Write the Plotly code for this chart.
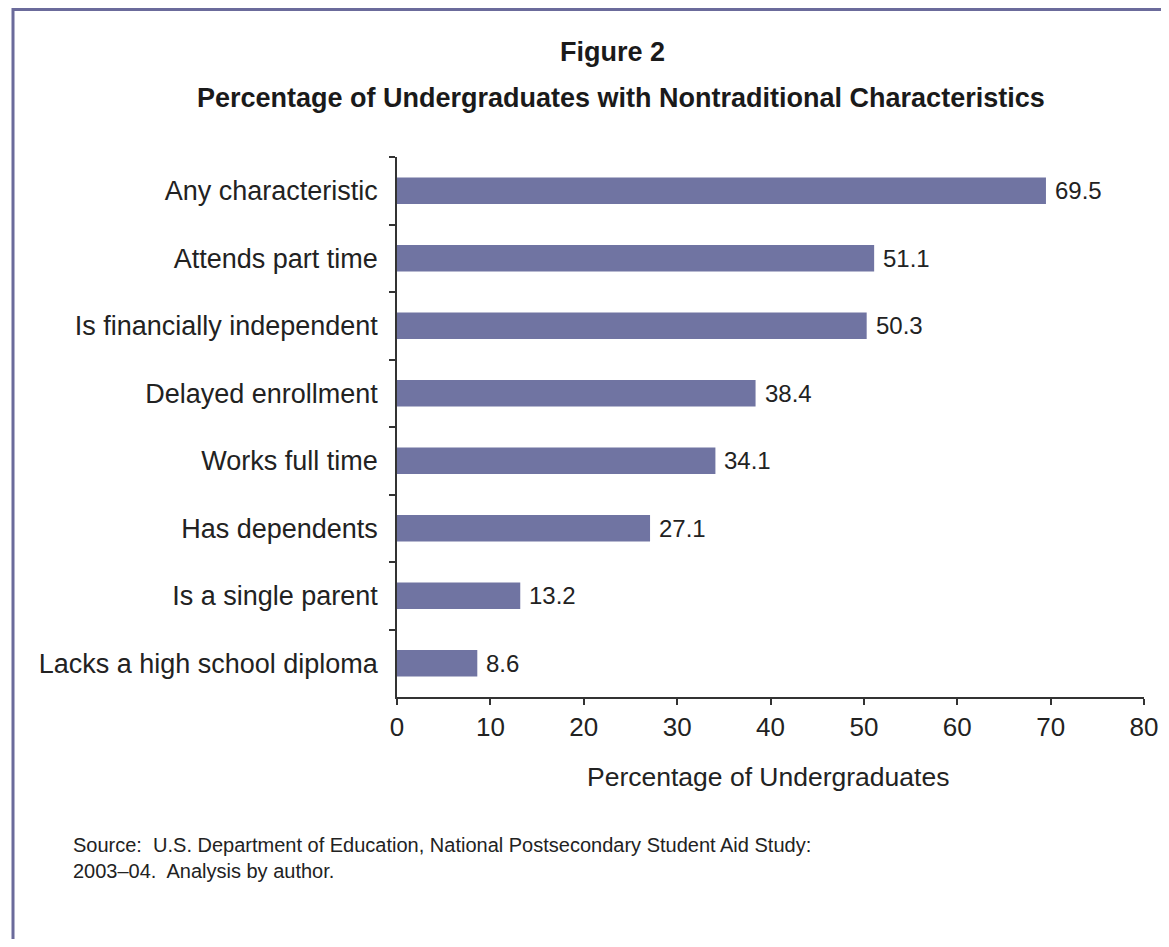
import plotly.graph_objects as go

categories = [
    "Any characteristic",
    "Attends part time",
    "Is financially independent",
    "Delayed enrollment",
    "Works full time",
    "Has dependents",
    "Is a single parent",
    "Lacks a high school diploma",
]
values = [69.5, 51.1, 50.3, 38.4, 34.1, 27.1, 13.2, 8.6]
x_ticks = [0, 10, 20, 30, 40, 50, 60, 70, 80]

title_line1 = "Figure 2"
title_line2 = "Percentage of Undergraduates with Nontraditional Characteristics"
x_title = "Percentage of Undergraduates"
source_text = ("Source:  U.S. Department of Education, National Postsecondary Student Aid Study:"
               "<br>2003\u201304.  Analysis by author.")

FONT = "Liberation Sans, Arial, sans-serif"
BAR_COLOR = "#7074a2"
FRAME_COLOR = "#6b6b9b"
AXIS_COLOR = "#333333"

# The page body has an 8px margin; figure is sized to fit inside the window.
OFF = 8
W, H = 1169 - 2 * OFF, 947 - 2 * OFF
# target plot area in screen pixels
S_L, S_R, S_T, S_B = 397, 1144, 157, 697
L, R = S_L - OFF, W - (S_R - OFF)
T, B = S_T - OFF, H - (S_B - OFF)
PW, PH = W - L - R, H - T - B


def sx(p):
    return (p - OFF - L) / PW


def sy(p):
    return (H - B - (p - OFF)) / PH


fig = go.Figure()
fig.add_trace(go.Bar(
    x=values,
    y=categories,
    orientation="h",
    marker=dict(color=BAR_COLOR, line=dict(width=0)),
    hoverinfo="x+y",
))

annotations = []
for c, v in zip(categories, values):
    annotations.append(dict(
        x=v, y=c, xref="x", yref="y", text=f"{v:.1f}", showarrow=False,
        xanchor="left", yanchor="middle", xshift=7,
        font=dict(family=FONT, size=24, color="#222222"),
    ))

annotations += [
    dict(x=sx(612), y=sy(52), xref="paper", yref="paper", text=f"<b>{title_line1}</b>",
         showarrow=False, xanchor="center", yanchor="middle",
         font=dict(family=FONT, size=27, color="#1a1a1a")),
    dict(x=sx(621), y=sy(98), xref="paper", yref="paper", text=f"<b>{title_line2}</b>",
         showarrow=False, xanchor="center", yanchor="middle",
         font=dict(family=FONT, size=27, color="#1a1a1a")),
    dict(x=sx(768), y=sy(777), xref="paper", yref="paper", text=x_title,
         showarrow=False, xanchor="center", yanchor="middle",
         font=dict(family=FONT, size=26.5, color="#222222")),
    dict(x=sx(71), y=sy(832), xref="paper", yref="paper", text=source_text,
         showarrow=False, xanchor="left", yanchor="top", align="left",
         font=dict(family=FONT, size=20, color="#222222")),
]

fig.update_layout(
    width=W, height=H,
    margin=dict(l=L, r=R, t=T, b=B, pad=0, autoexpand=False),
    paper_bgcolor="white",
    plot_bgcolor="white",
    showlegend=False,
    bargap=0.61,
    font=dict(family=FONT, color="#222222"),
    annotations=annotations,
    shapes=[dict(
        type="rect", xref="paper", yref="paper",
        x0=sx(13), x1=sx(1200), y0=sy(990), y1=sy(9.5),
        line=dict(color=FRAME_COLOR, width=3), fillcolor="rgba(0,0,0,0)", layer="below",
    )],
)

fig.update_xaxes(
    range=[0, 80], tickvals=x_ticks, ticktext=[str(t) for t in x_ticks],
    showline=True, linecolor=AXIS_COLOR, linewidth=1.5,
    ticks="outside", ticklen=6, tickcolor=AXIS_COLOR, tickwidth=1.5,
    showgrid=False, zeroline=False, automargin=False,
    tickfont=dict(family=FONT, size=26, color="#222222"),
    ticklabelstandoff=0,
)
fig.update_yaxes(
    categoryorder="array", categoryarray=categories, autorange="reversed",
    showline=True, linecolor=AXIS_COLOR, linewidth=1.5,
    ticks="outside", ticklen=6, tickcolor=AXIS_COLOR, tickwidth=1.5,
    tickson="boundaries", automargin=False,
    showgrid=False, zeroline=False,
    tickfont=dict(family=FONT, size=27, color="#222222"),
    ticklabelstandoff=12,
)

fig.write_html("out.html")
